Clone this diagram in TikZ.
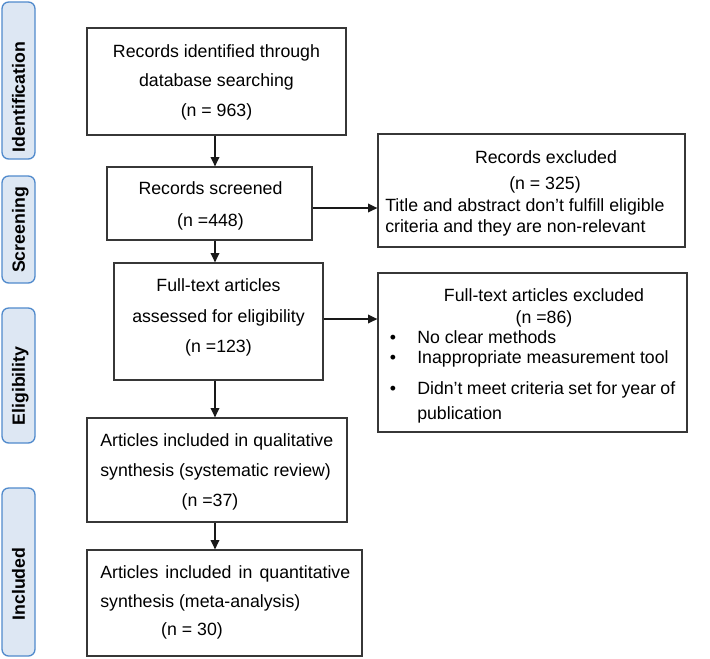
\documentclass[tikz,border=0pt]{standalone}
\usepackage{fontspec}
\setmainfont{Liberation Sans}
\usetikzlibrary{fit,arrows.meta}
\definecolor{lblfill}{RGB}{221,231,243}
\definecolor{lbldraw}{RGB}{80,138,204}
\definecolor{boxdraw}{RGB}{55,55,55}
\tikzset{
  box/.style={draw=boxdraw, line width=0.95pt, inner sep=0pt, fill=white},
  lbl/.style={draw=lbldraw, fill=lblfill, line width=1pt, rounded corners=5pt, inner sep=0pt},
  txt/.style={inner sep=0pt, text height=9.5pt, text depth=0pt, font=\fontsize{13.3}{16}\selectfont},
  lbltxt/.style={txt, font=\fontsize{13.3}{16}\selectfont\bfseries, rotate=90},
  arr/.style={line width=1.1pt, draw=black!90, -{Triangle[length=7pt,width=6.5pt]}}
}
\begin{document}
\begin{tikzpicture}[x=0.75pt,y=-0.75pt]
\useasboundingbox (0,0) rectangle (710,658);
% side labels
\node[lbl, fit={(2,2)(35,159)}] (l1) {};
\node[lbl, fit={(2,176)(35,283)}] (l2) {};
\node[lbl, fit={(2,308)(35,443)}] (l3) {};
\node[lbl, fit={(2,488)(35,656)}] (l4) {};
\node[lbltxt] (l1t) at (18.5,97) {Identification};
\node[lbltxt] (l2t) at (18.5,230) {Screening};
\node[lbltxt] (l3t) at (18.5,386) {Eligibility};
\node[lbltxt] (l4t) at (18.5,584) {Included};
% main boxes
\node[box, fit={(87,28)(346,135)}] (b1) {};
\node[box, fit={(107,167)(312,240)}] (b2) {};
\node[box, fit={(114,263)(323,380)}] (b3) {};
\node[box, fit={(87,418)(347,522)}] (b4) {};
\node[box, fit={(87,550)(362,656)}] (b5) {};
\node[box, fit={(378,134)(685,247)}] (e1) {};
\node[box, fit={(378,273)(687,432)}] (e2) {};
% box 1
\node[txt] (b1a) at (216.5,51) {Records identified through};
\node[txt] (b1b) at (216.5,80) {database searching};
\node[txt] (b1c) at (216.5,110) {(n = 963)};
% box 2
\node[txt] (b2a) at (210.5,188.5) {Records screened};
\node[txt] (b2b) at (210.5,220) {(n =448)};
% box 3
\node[txt] (b3a) at (218.5,285) {Full-text articles};
\node[txt] (b3b) at (218.5,316) {assessed for eligibility};
\node[txt] (b3c) at (218.5,346) {(n =123)};
% box 4
\node[txt, anchor=west] (b4a) at (100,440) {\makebox[174.75pt][s]{Articles included in qualitative}};
\node[txt, anchor=west] (b4b) at (100,470) {synthesis (systematic review)};
\node[txt] (b4c) at (210,500) {(n =37)};
% box 5
\node[txt, anchor=west] (b5a) at (100,572) {\makebox[187.5pt][s]{Articles included in quantitative}};
\node[txt, anchor=west] (b5b) at (100,601) {synthesis (meta-analysis)};
\node[txt] (b5c) at (192,629) {(n = 30)};
% excluded 1
\node[txt] (e1a) at (546,157.5) {Records excluded};
\node[txt] (e1b) at (545,183) {(n = 325)};
\node[txt, anchor=west] (e1c) at (385,205) {Title and abstract don’t fulfill eligible};
\node[txt, anchor=west] (e1d) at (385,226) {criteria and they are non-relevant};
% excluded 2
\node[txt] (e2a) at (544,295) {Full-text articles excluded};
\node[txt] (e2b) at (544,317) {(n =86)};
\node[txt] (e2p1) at (393,337) {•};
\node[txt, anchor=west] (e2c) at (417,337) {No clear methods};
\node[txt] (e2p2) at (393,357) {•};
\node[txt, anchor=west] (e2d) at (417,357) {Inappropriate measurement tool};
\node[txt] (e2p3) at (393,388) {•};
\node[txt, anchor=west] (e2e) at (417,388) {\makebox[193.5pt][s]{Didn’t meet criteria set for year of}};
\node[txt, anchor=west] (e2f) at (417,413) {publication};
% connectors
\coordinate (ax) at (215,0);
\coordinate (ay1) at (0,208);
\coordinate (ay2) at (0,319);
\draw[arr] (b1.south -| ax) -- (b2.north -| ax);
\draw[arr] (b2.south -| ax) -- (b3.north -| ax);
\draw[arr] (b3.south -| ax) -- (b4.north -| ax);
\draw[arr] (b4.south -| ax) -- (b5.north -| ax);
\draw[arr] (b2.east |- ay1) -- (e1.west |- ay1);
\draw[arr] (b3.east |- ay2) -- (e2.west |- ay2);
\end{tikzpicture}
\end{document}
